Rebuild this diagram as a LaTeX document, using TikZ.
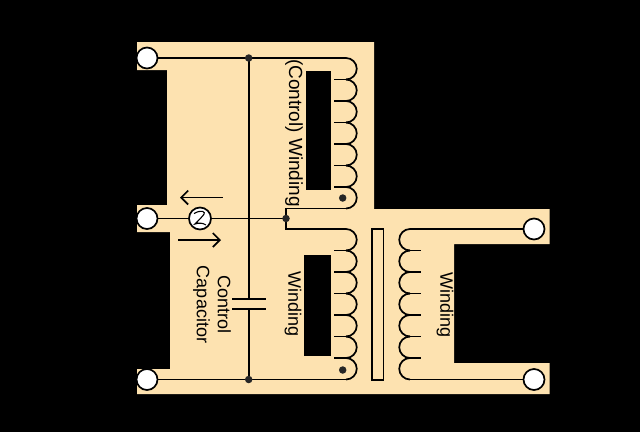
\documentclass[tikz,border=0pt]{standalone}
\usepackage{fontspec}
\setmainfont{Liberation Sans}
\usetikzlibrary{arrows.meta}
\tikzset{
  terminal/.style={circle,draw,fill=white,line width=1.7pt,minimum size=21pt,inner sep=0pt},
  junction/.style={circle,fill=black!85,minimum size=7.5pt,inner sep=0pt},
  wire/.style={line width=1.7pt},
  label/.style={rotate=-90,font=\fontsize{18}{21}\selectfont,align=center,inner sep=0pt}
}
\definecolor{panel}{RGB}{253,226,176}
\begin{document}
\begin{tikzpicture}[x=1pt,y=-1pt]
\fill[black] (0,0) rectangle (640,432);
\fill[panel] (137,42) -- (374,42) -- (374,209) -- (549.5,209) -- (549.5,244) -- (454,244) -- (454,363) -- (549.5,363) -- (549.5,394) -- (137,394) -- (137,369) -- (170,369) -- (170,232) -- (137,232) -- (137,205) -- (167,205) -- (167,70) -- (137,70) -- cycle;
% cores
\fill[black] (306,71) rectangle (331,190);
\fill[black] (304,255) rectangle (331,356);
\draw[wire,fill=panel] (372,229) rectangle (383.5,380);
% terminals
\coordinate (j1) at (248.7,58);
\coordinate (j2) at (248.7,379.5);
\coordinate (j3) at (286,218.5);
\coordinate (c1) at (248.7,299);
\coordinate (c2) at (248.7,309);
\coordinate (u1) at (346,58);
\coordinate (u2) at (346,208.5);
\coordinate (l1) at (346,229);
\coordinate (l2) at (346,379.5);
\coordinate (r1) at (410,229);
\coordinate (r2) at (410,379.5);
% wires
\draw[wire] (147,58) -- (u1);
\draw[wire] (147,379.5) -- (l2);
\draw[wire] (j1) -- (c1);
\draw[wire] (c2) -- (j2);
\draw[wire] (232,299) -- (265.7,299);
\draw[wire] (232,309) -- (265.7,309);
\draw[wire] (147,218.5) -- (j3);
\draw[wire] (u2) -| (j3);
\draw[wire] (l1) -| (j3);
\draw[wire] (534,229) -- (r1);
\draw[wire] (534,379.5) -- (r2);
% coils
\foreach \n in {0,...,6} {
  \draw[wire] (346,58+\n*21.5) arc[start angle=-90,end angle=90,radius=10.75];
  \draw[wire] (346,229+\n*21.5) arc[start angle=-90,end angle=90,radius=10.75];
  \draw[wire] (410,229+\n*21.5) arc[start angle=270,end angle=90,radius=10.75];
}
\foreach \n in {1,...,6} {
  \draw[wire] (346,58+\n*21.5) -- (334,58+\n*21.5);
  \draw[wire] (346,229+\n*21.5) -- (334,229+\n*21.5);
  \draw[wire] (410,229+\n*21.5) -- (421,229+\n*21.5);
}
\node[terminal] (t1) at (147,58) {};
\node[terminal] (t2) at (147,218.5) {};
\node[terminal] (t3) at (147,379.5) {};
\node[terminal] (t4) at (534,229) {};
\node[terminal] (t5) at (534,379.5) {};
\node[junction] (n1) at (j1) {};
\node[junction] (n2) at (j2) {};
\node[junction] (n3) at (j3) {};
\node[junction] (d1) at (342.7,198) {};
\node[junction] (d2) at (342.7,370) {};
% source
\node[terminal,minimum size=22pt] (src) at (200,218.5) {};
\draw[line width=1.1pt] (194,213.5) .. controls (201,209.5) and (207,211) .. (203,215.5) .. controls (200,219) and (197,222) .. (195,224) .. controls (199,222.5) and (203,223) .. (206,225);
% arrows
\draw[wire,-{Straight Barb[length=7pt,width=14pt]}] (222.7,197.5) -- (180,197.5);
\draw[wire,-{Straight Barb[length=7pt,width=14pt]}] (178,240) -- (221,240);
% labels
\node[label,font=\fontsize{19}{21}\selectfont] (w1) at (294,133) {(Control) Winding};
\node[label] (w2) at (293,304.5) {Winding};
\node[label] (w3) at (445,305) {Winding};
\node[label] (cap) at (212,304.5) {Control\\Capacitor};
\end{tikzpicture}
\end{document}
